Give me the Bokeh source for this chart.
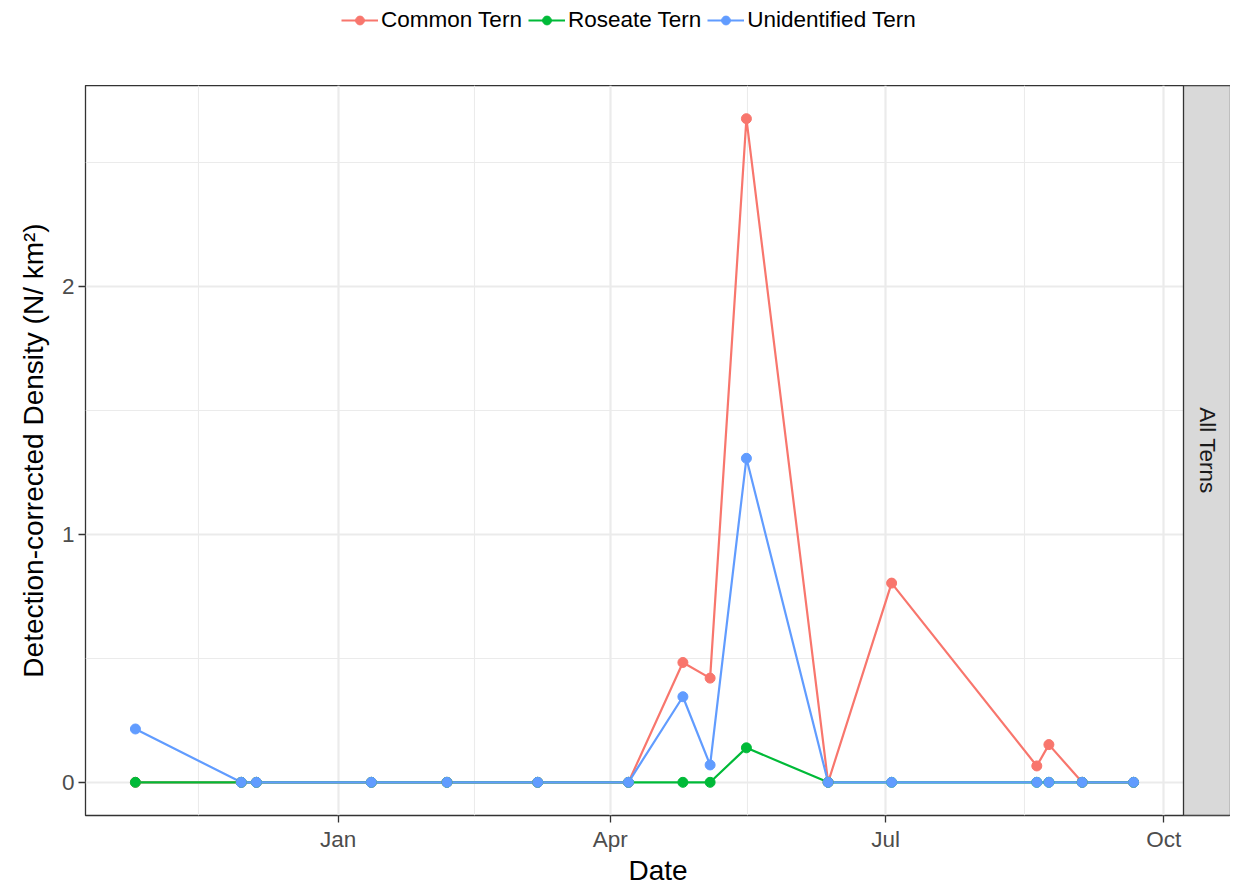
import numpy as np
import pandas as pd
from bokeh.plotting import figure
from bokeh.layouts import column
from bokeh.models import (Range1d, FixedTicker, DatetimeTickFormatter, Legend,
                          LegendItem, ColumnDataSource)
from bokeh.core.properties import value
from bokeh.embed import file_html
from bokeh.resources import INLINE

# ---------------- data ----------------
dates = ["2014-10-26", "2014-11-30", "2014-12-05", "2015-01-12", "2015-02-06",
         "2015-03-08", "2015-04-07", "2015-04-25", "2015-05-04", "2015-05-16",
         "2015-06-12", "2015-07-03", "2015-08-20", "2015-08-24", "2015-09-04",
         "2015-09-21"]
common_tern = [0, 0, 0, 0, 0, 0, 0, 0.483, 0.420, 2.675, 0, 0.803, 0.066, 0.152, 0, 0]
roseate_tern = [0, 0, 0, 0, 0, 0, 0, 0, 0, 0.139, 0, 0, 0, 0, 0, 0]
unidentified_tern = [0.215, 0, 0, 0, 0, 0, 0, 0.345, 0.070, 1.306, 0, 0, 0, 0, 0, 0]
species = ["Common Tern", "Roseate Tern", "Unidentified Tern"]
colors = ["#F8766D", "#00BA38", "#619CFF"]
tick_dates = ["2015-01-01", "2015-04-01", "2015-07-01", "2015-10-01"]
prev_break = ["2014-10-01"]
y_ticks = [0, 1, 2]
y_minor = [0.5, 1.5, 2.5]
strip_label = ["All Terns"]
x_title = "Date"
y_title = "Detection-corrected Density (N/ km\u00b2)"

FONT = "Liberation Sans"
LEFT = 85
TOP = 85
PANEL_W = 1098   # data panel width (px)
STRIP_W = 47     # facet strip width (px)
PANEL_H = 730
TOTAL_W = LEFT + PANEL_W + STRIP_W

# ---------------- scales ----------------
x = pd.to_datetime(dates)
x_ms = x.astype("int64") // 10**6
span = x_ms.max() - x_ms.min()
x0 = x_ms.min() - 0.05 * span
x1 = x_ms.max() + 0.05 * span
ms_per_px = (x1 - x0) / PANEL_W
x_end = x1 + STRIP_W * ms_per_px   # extend frame to host the facet strip

all_y = common_tern + roseate_tern + unidentified_tern
ymin, ymax = min(all_y), max(all_y)
yspan = ymax - ymin
y0 = ymin - 0.05 * yspan
y1 = ymax + 0.05 * yspan

major_ms = list(pd.to_datetime(tick_dates).astype("int64") // 10**6)
breaks = list(pd.to_datetime(prev_break + tick_dates).astype("int64") // 10**6)
minor_ms = [(a + b) / 2 for a, b in zip(breaks[:-1], breaks[1:])]

p = figure(x_axis_type="datetime", frame_width=PANEL_W + STRIP_W,
           frame_height=PANEL_H,
           min_border_left=LEFT, min_border_right=0, min_border_top=0,
           min_border_bottom=40, x_range=Range1d(x0, x_end),
           y_range=Range1d(y0, y1),
           output_backend="svg", toolbar_location=None)
p.background_fill_color = "white"
p.border_fill_color = "white"
p.outline_line_color = "#333333"
p.outline_line_width = 1.3

p.xaxis.ticker = FixedTicker(ticks=major_ms, minor_ticks=minor_ms)
p.yaxis.ticker = FixedTicker(ticks=y_ticks, minor_ticks=y_minor)
p.xaxis.formatter = DatetimeTickFormatter(
    milliseconds="%b", seconds="%b", minsec="%b", minutes="%b", hourmin="%b",
    hours="%b", days="%b", months="%b", years="%b")

for g in (p.xgrid, p.ygrid):
    g.grid_line_color = "#EBEBEB"
    g.grid_line_width = 2.2
    g.minor_grid_line_color = "#EBEBEB"
    g.minor_grid_line_width = 1.1

for ax in (p.xaxis, p.yaxis):
    ax.axis_line_color = None
    ax.major_tick_line_color = "#333333"
    ax.major_tick_line_width = 1.3
    ax.major_tick_out = 7
    ax.major_tick_in = 0
    ax.minor_tick_out = 0
    ax.minor_tick_in = 0
    ax.major_label_text_font = FONT
    ax.major_label_text_font_size = "22.5px"
    ax.major_label_text_color = "#4D4D4D"
    ax.axis_label_text_font = FONT
    ax.axis_label_text_font_size = "28px"
    ax.axis_label_text_font_style = "normal"
    ax.axis_label_text_color = "black"

p.xaxis.axis_label = x_title
p.yaxis.axis_label = y_title
p.xaxis.major_label_standoff = 4
p.yaxis.major_label_standoff = 4
p.xaxis.axis_label_standoff = 0
p.yaxis.axis_label_standoff = 10

series = [common_tern, roseate_tern, unidentified_tern]
sources = [ColumnDataSource(dict(x=x, y=s)) for s in series]
for src, c in zip(sources, colors):
    p.line("x", "y", source=src, line_color=c, line_width=2.2)
for src, c in zip(sources, colors):
    p.scatter("x", "y", source=src, size=10, fill_color=c,
              line_color=c, marker="circle")

# ---------------- facet strip (inside the extended frame) ----------------
p.quad(left=[x1], right=[x_end], bottom=[y0], top=[y1],
       fill_color="#D9D9D9", line_color="#333333", line_width=1.3)
p.text(x=[(x1 + x_end) / 2], y=[(y0 + y1) / 2], text=strip_label,
       angle=-np.pi / 2, text_align="center", text_baseline="middle",
       text_font=value(FONT), text_font_size="22.5px", text_color="#1A1A1A")

# ---------------- legend (own strip above the plot) ----------------
# same series renderers; the tiny legend canvas keeps them out of view
lg = figure(frame_width=TOTAL_W, frame_height=TOP, min_border=0,
            x_range=Range1d(0, 1), y_range=Range1d(0, 1),
            x_axis_location=None, y_axis_location=None,
            output_backend="svg", toolbar_location=None)
lg.grid.visible = False
lg.outline_line_color = None
lg.background_fill_color = "white"
lg.border_fill_color = "white"
items = []
for name, src, c in zip(species, sources, colors):
    r1 = lg.line("x", "y", source=src, line_color=c, line_width=2.2)
    r2 = lg.scatter("x", "y", source=src, size=10, fill_color=c,
                    line_color=c, marker="circle")
    items.append(LegendItem(label=name, renderers=[r1, r2]))
legend = Legend(items=items, orientation="horizontal", location=(341, 52),
                label_text_font=FONT, label_text_font_size="22.5px",
                label_text_color="black", glyph_width=37, glyph_height=22,
                label_standoff=3, spacing=6, padding=0, margin=0,
                border_line_color=None, background_fill_alpha=0)
lg.add_layout(legend)

layout = column(lg, p, spacing=0)
open("out.html", "w").write(file_html(layout, INLINE))
